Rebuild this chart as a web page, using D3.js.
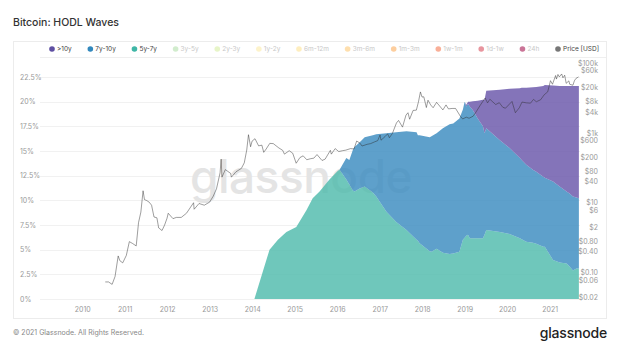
<!DOCTYPE html>
<html><head><meta charset="utf-8">
<script src="https://cdn.jsdelivr.net/npm/d3@7"></script>
<style>
body{margin:0;background:#fff;}
text{font-family:Inter, Roboto, "Open Sans", sans-serif;}
</style>
</head><body>
<svg id="c" width="620" height="349"></svg>
<script>
// ---------- DATA ----------
const waveDates = ["2014-01-20","2014-04-05","2014-05-30","2014-08-10","2014-10-22","2015-01-15","2015-04-12","2015-06-05","2015-08-03","2015-10-27","2016-01-08","2016-01-22","2016-03-20","2016-04-15","2016-05-15","2016-05-30","2016-07-13","2016-08-25","2016-11-03","2016-12-02","2017-02-28","2017-05-23","2017-08-19","2017-11-14","2017-11-25","2017-12-10","2018-03-07","2018-03-22","2018-05-05","2018-06-28","2018-08-25","2018-09-25","2018-11-17","2018-12-17","2019-01-01","2019-01-15","2019-01-30","2019-02-14","2019-03-12","2019-04-23","2019-06-07","2019-06-21","2019-07-06","2019-10-31","2020-01-22","2020-04-20","2020-05-05","2020-06-14","2020-08-10","2020-09-08","2020-11-07","2020-11-20","2021-01-30","2021-03-28","2021-05-26","2021-06-21","2021-07-20","2021-08-19","2021-09-09"];
const wave5y7y = [0,2.9,5.0,6.0,6.8,7.3,9.0,10.2,10.9,12.1,13.0,13.1,12.1,11.6,11.0,10.9,11.2,11.4,10.8,10.4,8.85,7.8,7.0,6.0,5.9,5.65,4.85,4.8,5.1,4.7,4.55,4.6,4.8,6.0,6.2,6.4,6.5,6.15,6.15,6.15,6.15,6.5,7.0,6.8,6.6,6.15,6.05,5.8,5.7,5.6,5.3,5.3,3.95,3.7,3.6,3.3,2.9,3.1,3.1];
const wave7y10y = [0,0,0,0,0,0,0,0,0,0,0,0,2.2,2.5,4.1,4.5,4.7,5.0,5.8,6.3,7.95,9.1,10.0,10.9,10.7,10.95,11.55,11.7,11.7,12.6,13.15,13.2,13.5,13.2,13.8,13.1,13.3,13.35,13.0,12.15,11.35,10.3,10.3,9.3,8.7,8.15,8.05,7.8,7.4,7.3,7.1,7.0,7.95,7.7,7.3,7.4,7.5,7.2,7.1];
const waveOver10y = [0,0,0,0,0,0,0,0,0,0,0,0,0,0,0,0,0,0,0,0,0,0,0,0,0,0,0,0,0,0,0,0,0,0,0,0.2,0.2,0.5,0.9,1.8,2.7,3.4,3.8,5.1,6.0,7.05,7.3,7.8,8.35,8.6,9.2,9.4,9.75,10.2,10.7,10.9,11.2,11.3,11.4];

const priceDates = ["2010-07-18","2010-08-15","2010-09-15","2010-10-10","2010-11-06","2010-11-20","2010-12-15","2011-01-15","2011-02-10","2011-03-10","2011-04-10","2011-04-30","2011-05-20","2011-06-08","2011-06-20","2011-07-10","2011-07-30","2011-08-20","2011-09-10","2011-10-05","2011-10-20","2011-11-18","2011-12-10","2011-12-31","2012-01-10","2012-02-20","2012-03-20","2012-05-01","2012-06-15","2012-08-15","2012-08-20","2012-10-01","2012-11-15","2012-12-31","2013-01-31","2013-02-28","2013-03-31","2013-04-09","2013-04-16","2013-05-15","2013-06-30","2013-07-06","2013-08-15","2013-09-30","2013-10-25","2013-11-15","2013-11-30","2013-12-18","2013-12-31","2014-01-25","2014-02-25","2014-03-25","2014-04-10","2014-05-01","2014-06-01","2014-07-01","2014-08-18","2014-09-20","2014-10-05","2014-11-15","2014-12-15","2015-01-14","2015-02-15","2015-03-15","2015-04-15","2015-05-15","2015-06-15","2015-07-12","2015-08-24","2015-09-20","2015-11-04","2015-11-12","2015-12-15","2016-01-15","2016-02-15","2016-03-15","2016-04-25","2016-05-25","2016-06-17","2016-07-15","2016-08-02","2016-09-15","2016-10-15","2016-11-15","2016-12-15","2017-01-04","2017-01-12","2017-02-15","2017-03-10","2017-03-25","2017-04-20","2017-05-25","2017-06-12","2017-07-16","2017-08-15","2017-09-01","2017-09-15","2017-10-15","2017-11-12","2017-11-30","2017-12-17","2017-12-31","2018-01-15","2018-02-06","2018-02-20","2018-03-15","2018-04-05","2018-05-05","2018-06-28","2018-07-25","2018-08-15","2018-09-15","2018-10-15","2018-11-25","2018-12-15","2019-01-15","2019-02-08","2019-03-15","2019-04-10","2019-05-15","2019-06-26","2019-07-17","2019-08-06","2019-09-25","2019-10-26","2019-11-25","2019-12-18","2020-02-12","2020-03-12","2020-04-15","2020-05-08","2020-06-15","2020-07-20","2020-08-15","2020-09-08","2020-10-15","2020-11-15","2020-12-15","2021-01-08","2021-01-25","2021-02-21","2021-02-28","2021-03-13","2021-03-25","2021-04-14","2021-04-25","2021-05-10","2021-05-23","2021-06-15","2021-06-22","2021-07-20","2021-08-01","2021-08-15","2021-09-06"];
const priceUsd = [0.054,0.054,0.046,0.077,0.30,0.22,0.19,0.31,0.77,0.68,0.58,2.7,5.4,22,12.3,11.5,10.4,8.5,3.9,3.7,1.9,1.6,2.3,3.6,5.0,3.5,3.8,3.8,5.0,10,6.5,9.5,8.5,10.4,15.4,25,72,177,54,89,69,54,77,96,139,323,885,400,580,680,425,445,277,345,500,493,370,316,246,308,262,135,196,220,170,181,189,239,162,177,316,246,354,292,308,320,354,346,585,508,420,470,493,547,600,870,616,778,940,724,963,1925,2270,1460,3230,3770,2460,4390,4470,7700,14860,10600,10780,5310,8620,6310,5240,7470,4540,6310,4850,5000,5000,3000,2500,2810,2620,3000,4000,6160,9930,7240,9160,6470,7300,5400,5080,7930,3770,5240,7620,7240,7080,9090,7780,8860,12320,14940,31200,24640,43900,34650,47000,40000,48500,37700,44660,26200,30800,24600,23100,30800,36200,40000];

const percentTicks = [0,2.5,5,7.5,10,12.5,15,17.5,20,22.5];
const priceTicks = [0.02,0.06,0.10,0.40,0.80,2,6,10,40,80,200,600,1000,4000,8000,20000,60000,100000];
const priceTickLabels = ["$0.02","$0.06","$0.10","$0.40","$0.80","$2","$6","$10","$40","$80","$200","$600","$1k","$4k","$8k","$20k","$60k","$100k"];
const yearTicks = [2010,2011,2012,2013,2014,2015,2016,2017,2018,2019,2020,2021];
const legendLabels = [">10y","7y-10y","5y-7y","3y-5y","2y-3y","1y-2y","6m-12m","3m-6m","1m-3m","1w-1m","1d-1w","24h","Price [USD]"];
const activeSeries = [">10y","7y-10y","5y-7y","Price [USD]"];

// ---------- STYLE ----------
const legendColors = ["#5e4fa2","#3288bd","#3fb6a6","#abdda4","#d4ed9b","#fbe9a0","#fee08b","#fdc46b","#fba54f","#f46d43","#d53e4f","#9e0142","#777777"];
const areaColors = {"5y-7y":"#4fbbac","7y-10y":"#3b8bc0",">10y":"#6956aa"};

const svg = d3.select("#c");
const parse = d3.timeParse("%Y-%m-%d");

const x = d3.scaleTime().domain([parse("2009-01-03"), parse("2021-09-10")]).range([40, 579]);
const yPct = d3.scaleLinear().domain([0, 23.92]).range([299, 63]);
const yPrice = d3.scaleLog().domain([0.01754, 100000]).range([299, 63]);

// title
svg.append("text").attr("x", 13).attr("y", 26).attr("font-size", 10.5).attr("font-weight", 500)
  .attr("fill", "#333").text("Bitcoin: HODL Waves");

// panel
svg.append("rect").attr("x", 13.5).attr("y", 41.5).attr("width", 593).attr("height", 277)
  .attr("fill", "none").attr("stroke", "#ececec");
svg.append("line").attr("x1", 40).attr("x2", 606).attr("y1", 57.5).attr("y2", 57.5).attr("stroke", "#efefef");

// gridlines
svg.append("g").selectAll("line").data(percentTicks).join("line")
  .attr("x1", 40).attr("x2", 580)
  .attr("y1", d => Math.round(yPct(d)) + 0.5).attr("y2", d => Math.round(yPct(d)) + 0.5)
  .attr("stroke", "#f1f1f1");

// watermark
svg.append("text").attr("x", 301).attr("y", 193).attr("text-anchor", "middle")
  .attr("font-size", 46).attr("font-weight", 500).attr("fill", "#e4e4e4").attr("letter-spacing", -0.5)
  .text("glassnode");

// stacked areas
const rows = waveDates.map((d, i) => ({date: parse(d), "5y-7y": wave5y7y[i], "7y-10y": wave7y10y[i], ">10y": waveOver10y[i]}));
const stack = d3.stack().keys(["5y-7y","7y-10y",">10y"]);
const series = stack(rows);
const area = d3.area().x(d => x(d.data.date)).y0(d => yPct(d[0])).y1(d => yPct(d[1]));
svg.append("g").selectAll("path").data(series).join("path")
  .attr("d", area).attr("fill", d => areaColors[d.key]).attr("fill-opacity", 0.82);

// price line
const priceRows = priceDates.map((d, i) => ({date: parse(d), v: priceUsd[i]}));
svg.append("path").datum(priceRows)
  .attr("d", d3.line().x(d => x(d.date)).y(d => yPrice(d.v)))
  .attr("fill", "none").attr("stroke", "#2a2a2a").attr("stroke-opacity", 0.65).attr("stroke-width", 0.7);

// left axis
const leftAxis = d3.axisLeft(yPct).tickValues(percentTicks).tickSize(0).tickFormat(d => d + "%");
const gl = svg.append("g").attr("transform", "translate(20,0)").call(leftAxis);
gl.select(".domain").remove();
gl.selectAll("text").attr("text-anchor", "start").attr("x", 0).attr("fill", "#999").attr("font-size", 7)
  .style("font-family", "Inter, Roboto, sans-serif");

// right axis
const rightAxis = d3.axisRight(yPrice).tickValues(priceTicks).tickSize(0)
  .tickFormat((d, i) => priceTickLabels[i]);
const gr = svg.append("g").attr("transform", "translate(598,0)").call(rightAxis);
gr.select(".domain").remove();
gr.selectAll("text").attr("text-anchor", "end").attr("x", 0).attr("fill", "#999").attr("font-size", 7)
  .style("font-family", "Inter, Roboto, sans-serif");

// bottom axis
const bottomAxis = d3.axisBottom(x).tickValues(yearTicks.map(yv => new Date(yv, 0, 1))).tickSize(0).tickPadding(8)
  .tickFormat(d3.timeFormat("%Y"));
const gb = svg.append("g").attr("transform", "translate(0,299)").call(bottomAxis);
gb.select(".domain").remove();
gb.selectAll("text").attr("fill", "#999").attr("font-size", 7).style("font-family", "Inter, Roboto, sans-serif");

// legend: spread items between first and last dot positions
const lg = svg.append("g");
const firstDot = 52, lastDot = 558;
const items = legendLabels.map((lab, i) => {
  const on = activeSeries.includes(lab);
  const c = lg.append("circle").attr("cy", 49).attr("r", 2.8)
    .attr("fill", legendColors[i]).attr("opacity", on ? 1 : 0.55);
  const t = lg.append("text").attr("y", 49).attr("dy", "0.35em")
    .attr("font-size", 6.5).attr("fill", on ? "#444" : "#c8c8c8").text(lab);
  return {c, t, w: t.node().getComputedTextLength()};
});
const used = d3.sum(items.slice(0, -1), d => d.w + 5);
const gap = (lastDot - firstDot - used) / (items.length - 1);
let cx = firstDot;
items.forEach(it => {
  it.c.attr("cx", cx);
  it.t.attr("x", cx + 5);
  cx += 5 + it.w + gap;
});

// footer
svg.append("text").attr("x", 13).attr("y", 335).attr("font-size", 7).attr("fill", "#888")
  .text("© 2021 Glassnode. All Rights Reserved.");
svg.append("text").attr("x", 607).attr("y", 338).attr("text-anchor", "end").attr("font-size", 14)
  .attr("font-weight", 500).attr("fill", "#222").attr("letter-spacing", -0.2).text("glassnode");
</script>
</body></html>
